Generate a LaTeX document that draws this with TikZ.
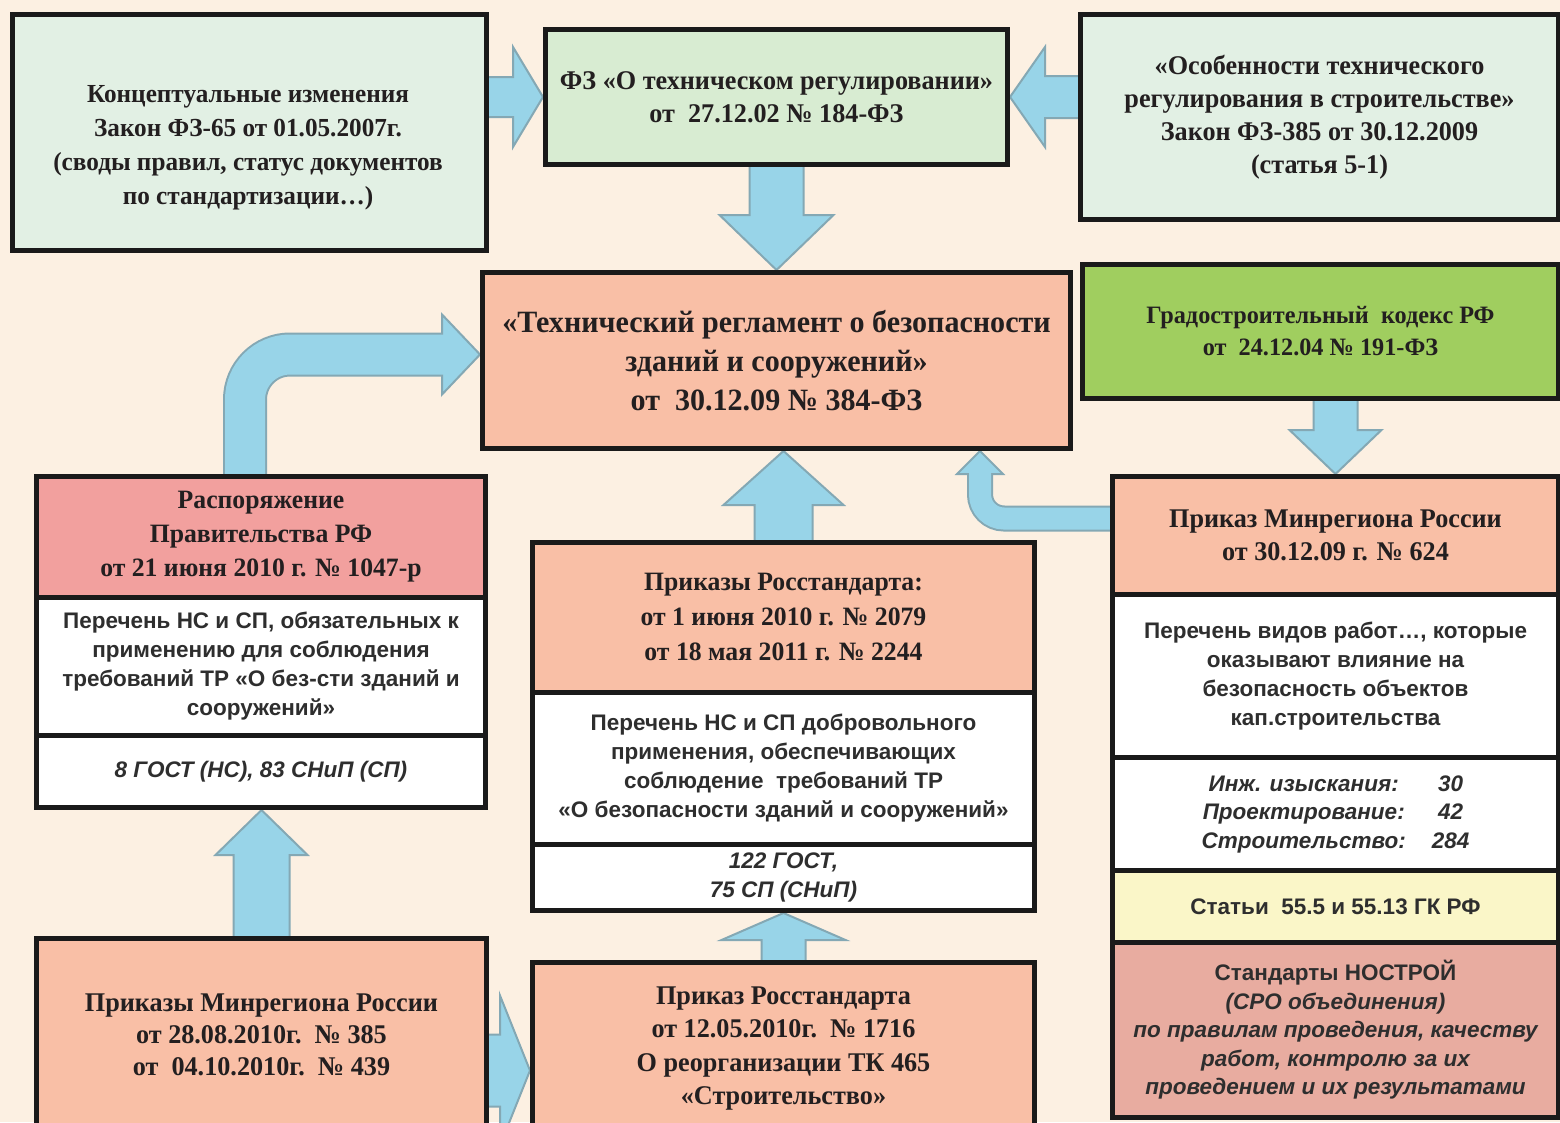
\documentclass[tikz,border=0pt]{standalone}
\usepackage{fontspec}
\setmainfont{Liberation Serif}[BoldFeatures={FakeStretch=0.97}]
\setsansfont{Liberation Sans}
\usetikzlibrary{calc}
\pgfdeclarelayer{bg}
\pgfsetlayers{bg,main}
\definecolor{cream}{HTML}{FCF0E2}
\definecolor{mint}{HTML}{E2F0E4}
\definecolor{mintg}{HTML}{D8ECD2}
\definecolor{salmon}{HTML}{F9BFA6}
\definecolor{grn}{HTML}{A0CE5F}
\definecolor{pinkh}{HTML}{F2A09E}
\definecolor{yel}{HTML}{FAF6C8}
\definecolor{pinkb}{HTML}{E8ACA0}
\definecolor{ablue}{HTML}{98D4E8}
\definecolor{aline}{HTML}{84A8B4}
\definecolor{txt}{HTML}{231F20}
\definecolor{stxt}{HTML}{2E2E2E}
\definecolor{boxline}{HTML}{1A1A1A}
\tikzset{
  box/.style={draw=boxline, line width=5pt, anchor=north west, inner sep=0pt, align=center, text=txt},
  sr/.style 2 args={font=\bfseries\fontsize{#1}{#2}\selectfont, text=txt, align=center},
  ss/.style={font=\sffamily\bfseries\fontsize{22.5}{29}\selectfont, text=stxt},
  si/.style={font=\sffamily\bfseries\itshape\fontsize{22.5}{28.5}\selectfont, text=stxt},
  arrowsty/.style={fill=ablue, draw=aline, line width=2pt, line join=miter},
}
% straight block arrow: start, tip, shaft half width, head half width, head length
\newcommand\blk[5]{%
  \path[arrowsty] let \p1=(#1), \p2=(#2), \n1={atan2(\y2-\y1,\x2-\x1)}, \n2={veclen(\x2-\x1,\y2-\y1)} in
    [shift={(\x1,\y1)}, rotate=\n1]
    (-4pt,{-#3*1pt}) -- ({(\n2-#5)*1pt},{-#3*1pt}) -- ({(\n2-#5)*1pt},{-#4*1pt}) -- ({\n2*1pt},0pt)
    -- ({(\n2-#5)*1pt},{#4*1pt}) -- ({(\n2-#5)*1pt},{#3*1pt}) -- (-4pt,{#3*1pt}) -- cycle;
}
\begin{document}
\begin{tikzpicture}[x=1pt,y=-1pt]
\useasboundingbox (0,0) rectangle (1560,1122);
\clip (0,0) rectangle (1560,1122);

% top row
\node[box, fill=mint, minimum width=474pt, minimum height=236pt] (A) at (10,12) {};
\node[sr={26}{34}] (At) at (248,148) {Концептуальные изменения\\Закон ФЗ-65 от 01.05.2007г.\\(своды правил, статус документов\\по стандартизации…)};
\node[box, fill=mintg, minimum width=462pt, minimum height=135pt, sr={27}{33}] (B) at (543,27) {ФЗ «О техническом регулировании»\\от~~27.12.02 № 184-ФЗ};
\node[box, fill=mint, minimum width=478pt, minimum height=205pt, sr={27}{33}] (C) at (1078,12) {«Особенности технического\\регулирования в строительстве»\\Закон ФЗ-385 от 30.12.2009\\(статья 5-1)};

% main
\node[box, fill=salmon, minimum width=588pt, minimum height=176pt, sr={31}{39}] (D) at (480,270) {«Технический регламент о безопасности\\зданий и сооружений»\\от~~30.12.09 № 384-ФЗ};
\node[box, fill=grn, minimum width=476pt, minimum height=134pt, sr={25}{32}] (E) at (1080,262) {Градостроительный~ кодекс РФ\\от~~24.12.04 № 191-ФЗ};

% right column
\node[box, fill=salmon, minimum width=446pt, minimum height=118pt, sr={27}{33}] (F1) at (1110,474) {Приказ Минрегиона России\\от 30.12.09 г. № 624};
\node[box, fill=white, minimum width=446pt, minimum height=163pt, ss] (F2) at (1110,592) {Перечень видов работ…, которые\\оказывают влияние на\\безопасность объектов\\кап.строительства};
\node[box, fill=white, minimum width=446pt, minimum height=113pt, si] (F3) at (1110,755) {\begin{tabular}{@{}c@{\hspace{26pt}}c@{}}Инж. изыскания: & 30\\ Проектирование: & 42\\ Строительство: & 284\end{tabular}};
\node[box, fill=yel, minimum width=446pt, minimum height=72pt, ss] (F4) at (1110,868) {Статьи~ 55.5 и 55.13 ГК РФ};
\node[box, fill=pinkb, minimum width=446pt, minimum height=175pt, si] (F5) at (1110,940) {{\upshape Стандарты НОСТРОЙ}\\(СРО объединения)\\по правилам проведения, качеству\\работ, контролю за их\\проведением и их результатами};

% left column
\node[box, fill=pinkh, minimum width=449pt, minimum height=121pt, sr={26.5}{34}] (G1) at (34,474) {Распоряжение\\Правительства РФ\\от 21 июня 2010 г. № 1047-р};
\node[box, fill=white, minimum width=449pt, minimum height=138pt, ss] (G2) at (34,595) {Перечень НС и СП, обязательных к\\применению для соблюдения\\требований ТР «О без-сти зданий и\\сооружений»};
\node[box, fill=white, minimum width=449pt, minimum height=72pt, si] (G3) at (34,733) {8 ГОСТ (НС), 83 СНиП (СП)};

% middle column
\node[box, fill=salmon, minimum width=502pt, minimum height=150pt, sr={26.5}{35}] (H1) at (530,540) {Приказы Росстандарта:\\от 1 июня 2010 г. № 2079\\от 18 мая 2011 г. № 2244};
\node[box, fill=white, minimum width=502pt, minimum height=152pt, ss] (H2) at (530,690) {Перечень НС и СП добровольного\\применения, обеспечивающих\\соблюдение~ требований ТР\\«О безопасности зданий и сооружений»};
\node[box, fill=white, minimum width=502pt, minimum height=66pt, si] (H3) at (530,842) {122 ГОСТ,\\75 СП (СНиП)};

% bottom
\node[box, fill=salmon, minimum width=450pt, minimum height=192pt, sr={27}{32}] (I) at (34,936) {Приказы Минрегиона России\\от 28.08.2010г.~~№ 385\\от~~04.10.2010г.~~№ 439};
\node[box, fill=salmon, minimum width=502pt, minimum height=172pt, sr={27}{33.5}] (J) at (530,960) {Приказ Росстандарта\\от 12.05.2010г.~~№ 1716\\О реорганизации ТК 465\\«Строительство»};

% background and arrows
\begin{pgfonlayer}{bg}
\fill[cream] (0,0) rectangle (1560,1122);
\blk{A.east |- B.west}{B.west}{20}{50}{30}
\blk{C.west |- B.east}{B.east}{21}{50}{35}
\blk{B.south}{B.south |- D.north}{27}{57}{55}
\blk{F1.north |- E.south}{F1.north}{22}{46}{44}
\blk{H1.north}{H1.north |- D.south}{29}{60}{54}
\blk{I.north}{I.north |- G3.south}{28}{46}{45}
\blk{J.north}{J.north |- H3.south}{22}{62}{27}
\coordinate (ij) at ($(I.east)+(0,36)$);
\blk{ij}{J.west |- ij}{36}{75}{30}
% curved arrow G -> D
\coordinate (gs) at ($(G1.north west)+(211,6)$);
\coordinate (dt) at ($(D.west)+(0,-6)$);
\coordinate (db) at ($(dt)+(-38,0)$);
\draw[aline, line width=44pt, rounded corners=45pt] (gs) |- (db);
\path[arrowsty] (db) -- ($(db)+(0,-40)$) -- (dt) -- ($(db)+(0,40)$) -- cycle;
\draw[ablue, line width=40pt, rounded corners=45pt] (gs) |- ($(db)+(3,0)$);
% curved arrow F1 -> D
\coordinate (fs) at ($(F1.west)+(6,-17)$);
\coordinate (fx) at (980,446);
\coordinate (ft) at (fx |- D.south);
\coordinate (fb) at ($(ft)+(0,23)$);
\draw[aline, line width=26pt, rounded corners=24pt] (fs) -| (fb);
\path[arrowsty] (fb) -- ($(fb)+(-23,0)$) -- (ft) -- ($(fb)+(23,0)$) -- cycle;
\draw[ablue, line width=22pt, rounded corners=24pt] (fs) -| ($(fb)+(0,-3)$);
\end{pgfonlayer}
\end{tikzpicture}
\end{document}
